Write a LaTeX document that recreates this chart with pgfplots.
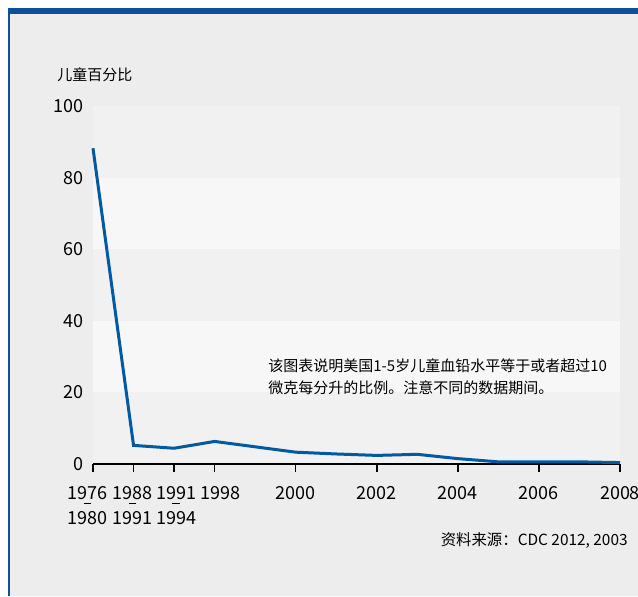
\documentclass[border=0pt]{standalone}
\usepackage{fontspec}
\setmainfont{Noto Sans CJK SC}
\usepackage{pgfplots}
\pgfplotsset{compat=1.18}

\definecolor{bgGrey}{RGB}{237,237,237}
\definecolor{bandDark}{RGB}{241,241,241}
\definecolor{bandLight}{RGB}{247,247,247}
\definecolor{frameBlue}{RGB}{10,80,158}
\definecolor{lineBlue}{RGB}{0,90,163}

% two-line period label, small dash between the two years; #1 moves the label sideways
\newcommand{\period}[3]{%
  \hspace*{#1}\setbox0\hbox{#2}\rlap{\hbox to \wd0{\hfil\rule[-0.27em]{0.42em}{0.07em}\hfil}}\box0\\
  \hspace*{#1}#3}

\begin{document}
\begin{tikzpicture}
\useasboundingbox (0,0) rectangle (319pt,298pt);
% page background and frame (pixel coordinates, y downwards)
\begin{scope}[x=0.5pt,y=-0.5pt,shift={(0pt,298pt)}]
  \fill[bgGrey] (9,8) rectangle (638,596);
  \fill[frameBlue] (8,8) rectangle (638,14);
  \fill[frameBlue] (8,8) rectangle (10,596);
  \node[anchor=base west,font=\fontsize{7.5}{9}\selectfont,inner sep=0pt] at (57,80) {儿童百分比};
  \node[anchor=base east,font=\fontsize{7.7}{9}\selectfont,inner sep=0pt] at (628,545)
    {资料来源：CDC 2012, 2003};
\end{scope}

\begin{axis}[
  at={(46.5pt,66pt)}, anchor=south west,
  scale only axis, width=263.5pt, height=179pt,
  xmin=0, xmax=13, ymin=0, ymax=100,
  axis line style={draw=none},
  tick pos=left,
  xtick={0,1,2,3,5,7,9,11,13},
  xticklabels={{\period{-5.5pt}{1976}{1980}},{\period{-1pt}{1988}{1991}},{\period{2pt}{1991}{1994}},\hspace*{6pt}1998,2000,2002,2004,2006,2008},
  ytick={0,20,40,60,80,100},
  xtick align=outside, ytick align=inside,
  major tick length=4pt,
  xtick style={black, line width=0.75pt},
  ytick style={draw=none},
  xticklabel style={align=center, anchor=north, font=\fontsize{9}{12.5}\selectfont, yshift=-3.5pt},
  yticklabel style={anchor=east, font=\fontsize{9}{11}\selectfont, xshift=-1pt},
  /pgf/number format/assume math mode=true,
  clip=false,
]
\fill[bandDark]  (axis cs:0,80) rectangle (axis cs:13,100);
\fill[bandLight] (axis cs:0,60) rectangle (axis cs:13,80);
\fill[bandDark]  (axis cs:0,40) rectangle (axis cs:13,60);
\fill[bandLight] (axis cs:0,20) rectangle (axis cs:13,40);
\fill[bandDark]  (axis cs:0,0) rectangle (axis cs:13,20);
\draw[black, line width=0.75pt] (axis cs:0,0) -- (axis cs:13,0);
\addplot[lineBlue, line width=1.5pt, mark=none] coordinates {
  (0,88.2) (1,5.2) (2,4.4) (3,6.3) (4,4.8) (5,3.3) (6,2.8) (7,2.4)
  (8,2.7) (9,1.5) (10,0.6) (11,0.6) (12,0.6) (13,0.4)
};
\end{axis}

% note inside the plot area, drawn after the bands
\begin{scope}[x=0.5pt,y=-0.5pt,shift={(0pt,298pt)}]
  \node[anchor=base west,align=left,font=\fontsize{7.5}{11}\selectfont,inner sep=0pt] at (268,393)
    {该图表说明美国1-5岁儿童血铅水平等于或者超过10\\微克每分升的比例。注意不同的数据期间。};
\end{scope}
\end{tikzpicture}
\end{document}
